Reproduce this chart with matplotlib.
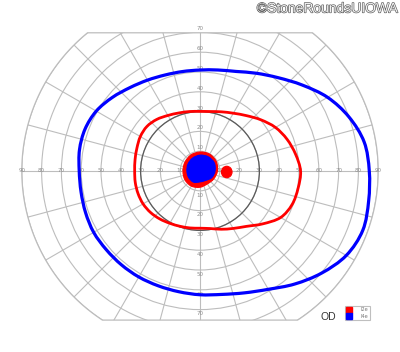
import numpy as np
import matplotlib
matplotlib.use("Agg")
import matplotlib.pyplot as plt
from matplotlib.patches import Polygon, Circle, PathPatch
from matplotlib.path import Path
from matplotlib.lines import Line2D
import matplotlib.patheffects as pe

# ---------------- data (meridian angle in degrees, eccentricity in degrees) -------------
meridians_10 = list(range(0, 360, 10))

i4e_outer = [85.5, 84.2, 80.0, 74.4, 67.5, 61.5, 57.0, 53.5, 51.8, 51.0,
             51.0, 51.6, 53.0, 55.0, 57.8, 60.5, 61.8, 61.8, 61.0, 61.0,
             61.5, 62.0, 61.8, 61.8, 61.8, 61.7, 61.9, 62.5, 63.3, 65.5,
             69.0, 74.5, 80.2, 85.3, 87.5, 86.5]

i2e_outer = [50.8, 49.0, 46.8, 44.0, 40.2, 36.5, 33.7, 31.8, 30.5, 30.1,
             30.5, 31.2, 32.4, 34.0, 35.0, 34.8, 33.9, 33.3, 33.0, 33.2,
             33.3, 33.2, 32.6, 31.6, 30.5, 29.7, 29.2, 28.9, 29.5, 31.3,
             33.5, 36.5, 41.5, 47.0, 49.5, 50.3]

meridians_30 = list(range(0, 360, 30))
i2e_central = [8.8, 9.5, 9.8, 9.6, 9.3, 8.8, 8.6, 8.8, 8.8, 8.2, 7.5, 8.0]
i4e_central = [7.6, 8.3, 8.3, 8.0, 7.5, 7.0, 6.6, 6.6, 6.5, 5.5, 5.5, 6.8]

# small I2e island (x, y in degrees)
i2e_island_x = [16.2, 15.4, 13.5, 11.6, 10.8, 11.6, 13.5, 15.4]
i2e_island_y = [-0.5, 1.55, 2.4, 1.55, -0.5, -2.55, -3.4, -2.55]

circle_degrees = [10, 20, 30, 40, 50, 60, 70, 80, 90]
horiz_labels = ["10", "20", "30", "40", "50", "60", "70", "80", "90"]
vert_labels = ["10", "20", "30", "40", "50", "60", "70"]
series_names = ["I2e", "I4e"]
series_colors = ["#ff0000", "#0000ff"]

# ---------------- figure ---------------------------------------------------------------
W, H = 400, 352
cx, cy, s = 200.0, 171.0, 1.98   # pixel centre and px per degree
fig = plt.figure(figsize=(W / 100, H / 100), dpi=100)
ax = fig.add_axes([0, 0, 1, 1])
ax.set_xlim(-cx / s, (W - cx) / s)
ax.set_ylim(-(H - cy) / s, cy / s)
ax.axis("off")

top_lim, bot_lim, R = 69.8, -75.3, 90.0
a_top = np.arcsin(top_lim / R)
a_bot = np.arcsin(bot_lim / R)
ang_r = np.linspace(a_bot, a_top, 200)
ang_l = np.linspace(np.pi - a_top, np.pi - a_bot, 200)
bx = np.concatenate([R * np.cos(ang_r), R * np.cos(ang_l)])
by = np.concatenate([R * np.sin(ang_r), R * np.sin(ang_l)])
grid_c = "#bdbdbd"
boundary = Polygon(np.column_stack([bx, by]), closed=True, fill=False,
                   edgecolor=grid_c, lw=0.9, zorder=2)
ax.add_patch(boundary)

for r in circle_degrees:
    c = Circle((0, 0), r, fill=False, edgecolor=grid_c, lw=0.8, zorder=1)
    ax.add_patch(c)
    c.set_clip_path(boundary)
for a in range(0, 360, 15):
    rad = np.deg2rad(a)
    ln, = ax.plot([0, 100 * np.cos(rad)], [0, 100 * np.sin(rad)],
                  color=grid_c, lw=0.8, zorder=1)
    ln.set_clip_path(boundary)

# darker 30 degree circle
ax.add_patch(Circle((0, 0), 30, fill=False, edgecolor="#5a5a5a", lw=0.9, zorder=3))

# degree labels
lab_kw = dict(fontsize=4, color="#8c8c8c", ha="center", va="center", zorder=2)
for r, lab in zip(circle_degrees, horiz_labels):
    ax.text(-r, 0, lab, **lab_kw)
    ax.text(r, 0, lab, **lab_kw)
for r, lab in zip(circle_degrees, vert_labels):
    ax.text(0, r + 1.8, lab, **lab_kw)
    ax.text(0, -r - 2.2, lab, **lab_kw)


def polar_xy(angles, radii):
    a = np.deg2rad(np.asarray(angles, float))
    r = np.asarray(radii, float)
    return r * np.cos(a), r * np.sin(a)


def smooth_closed_path(x, y):
    """Closed Catmull-Rom curve through the points, as cubic Bezier segments."""
    p = np.column_stack([x, y])
    n = len(p)
    verts = [p[0]]
    codes = [Path.MOVETO]
    for i in range(n):
        p0, p1, p2, p3 = p[i - 1], p[i], p[(i + 1) % n], p[(i + 2) % n]
        c1 = p1 + (p2 - p0) / 6.0
        c2 = p2 - (p3 - p1) / 6.0
        verts += [c1, c2, p2]
        codes += [Path.CURVE4] * 3
    return Path(np.array(verts), codes)


# isopters
for angles, radii, col, lw in [(meridians_10, i4e_outer, series_colors[1], 2.3),
                               (meridians_10, i2e_outer, series_colors[0], 2.0)]:
    x, y = polar_xy(angles, radii)
    ax.add_patch(PathPatch(smooth_closed_path(x, y), fill=False,
                           edgecolor=col, lw=lw, zorder=5))

x, y = polar_xy(meridians_30, i2e_central)
ax.add_patch(PathPatch(smooth_closed_path(x, y), facecolor=series_colors[0],
                       edgecolor=series_colors[0], lw=0.8, zorder=6))
ax.add_patch(PathPatch(smooth_closed_path(i2e_island_x, i2e_island_y),
                       facecolor=series_colors[0], edgecolor=series_colors[0],
                       lw=0.8, zorder=6))
x, y = polar_xy(meridians_30, i4e_central)
ax.add_patch(PathPatch(smooth_closed_path(x, y), facecolor=series_colors[1],
                       edgecolor=series_colors[1], lw=0.8, zorder=7))

# legend
handles = [Line2D([], [], marker="s", linestyle="none", markersize=4.6,
                  markerfacecolor=c, markeredgecolor=c) for c in series_colors]
leg = ax.legend(handles, series_names, loc="upper left",
                bbox_to_anchor=(345 / W, 1 - 305.5 / H), bbox_transform=fig.transFigure,
                fontsize=3.6, frameon=True, fancybox=False, handlelength=0.9,
                handletextpad=1.8, borderpad=0.35, labelspacing=0.25,
                borderaxespad=0)
leg.get_frame().set_edgecolor("#b0b0b0")
leg.get_frame().set_linewidth(0.8)
for tx in leg.get_texts():
    tx.set_color("#777777")

fig.text(328.5 / W, 1 - 317 / H, "OD", fontsize=7.5, color="#333333",
         ha="center", va="center", family="Liberation Sans")
fig.text(398 / W, 1 - 8.5 / H, "\u00a9StoneRoundsUIOWA", fontsize=10, color="#f2f2f2",
         ha="right", va="center", family="Liberation Sans",
         path_effects=[pe.withStroke(linewidth=0.9, foreground="#555555")])

fig.savefig("out.png", dpi=100)
